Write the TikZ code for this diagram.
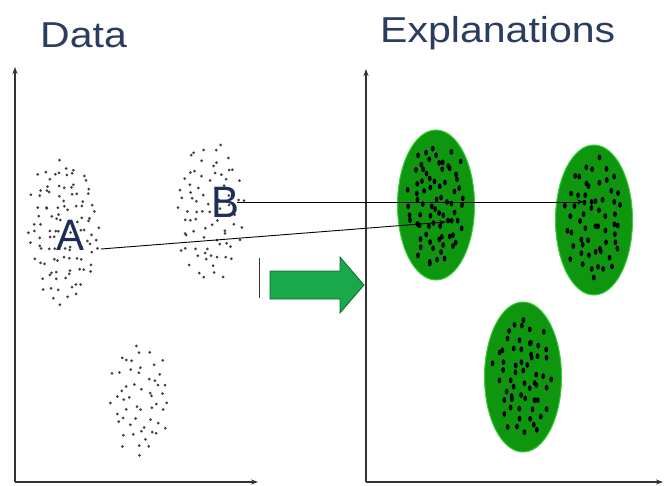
\documentclass[tikz,border=0pt]{standalone}
\usepackage{fontspec}
\setmainfont{Liberation Sans}
\usetikzlibrary{arrows.meta,shapes.geometric}
\definecolor{titleblue}{HTML}{2B3D5E}
\definecolor{letterblue}{HTML}{1F2D5A}
\definecolor{clustergreen}{HTML}{0E960E}
\definecolor{clusteredge}{HTML}{3ACC3A}
\definecolor{arrowgreen}{HTML}{19A84A}
\definecolor{arrowedge}{HTML}{0B6B2B}
\definecolor{axisgray}{HTML}{333333}
% sunflower pattern with a small jitter
\newcommand{\dotcloud}[6]{%
  \foreach \i in {1,...,#5}{%
    \pgfmathsetmacro{\myr}{sqrt((\i-0.5)/#5)}%
    \pgfmathsetmacro{\myt}{\i*137.508}%
    \pgfmathsetmacro{\myjx}{4*rand}%
    \pgfmathsetmacro{\myjy}{4*rand}%
    \path ({#1+#3*\myr*cos(\myt)+\myjx},{#2+#4*\myr*sin(\myt)+\myjy}) node[#6] {};
  }}
\begin{document}
\begin{tikzpicture}[x=1pt,y=-1pt,
  title/.style={font=\fontsize{36}{38}\selectfont, text=titleblue, inner sep=0pt, anchor=base west, xscale=1.14},
  letter/.style={font=\fontsize{44}{46}\selectfont, text=letterblue, inner sep=0pt, anchor=base west, xscale=0.95},
  axis/.style={draw=axisgray, line width=1.3pt, -{Stealth[length=7pt,width=5pt]}},
  cluster/.style={ellipse, draw=clusteredge, line width=1pt, fill=clustergreen, inner sep=0pt, minimum width=77pt, minimum height=150pt},
  rawdot/.style={circle, fill=black!75, inner sep=0pt, minimum size=3pt},
  greendot/.style={ellipse, fill=black, inner sep=0pt, minimum width=3.8pt, minimum height=5.8pt},
  link/.style={draw=black, line width=0.9pt, -{Stealth[length=7pt,width=5pt]}}]
\useasboundingbox (0,0) rectangle (668,486);
\pgfmathsetseed{23}
% titles
\node[title] (tdata) at (40,48) {Data};
\node[title] (texpl) at (380,43) {Explanations};
% axes
\coordinate (lo) at (15,482);
\coordinate (ly) at (15,67);
\coordinate (lx) at (258,482);
\draw[axis] (lo) -- (ly);
\draw[axis] (lo) -- (lx);
\coordinate (ro) at (366,482);
\coordinate (ry) at (366,69);
\coordinate (rx) at (663,482);
\draw[axis] (ro) -- (ry);
\draw[axis] (ro) -- (rx);
% raw data clouds
\dotcloud{64}{230}{35}{72}{110}{rawdot}
\dotcloud{210}{212}{34}{70}{80}{rawdot}
\dotcloud{140}{400}{30}{58}{55}{rawdot}
% green clusters
\node[cluster] (e1) at (436,205) {};
\node[cluster] (e2) at (594,220) {};
\node[cluster] (e3) at (523,377) {};
\dotcloud{436}{205}{29}{62}{75}{greendot}
\dotcloud{594}{220}{29}{62}{60}{greendot}
\dotcloud{523}{377}{29}{62}{60}{greendot}
% letters
\node[letter] (A) at (56,250) {A};
\node[letter] (B) at (211,217) {B};
% links
\coordinate (aS) at (101,249);
\coordinate (aE) at (446,222);
\coordinate (bS) at (237,202);
\coordinate (bE) at (584,202);
\draw[link] (aS) -- (aE);
\draw[link] (bS) -- (bE);
% big green arrow and mark
\draw[fill=arrowgreen, draw=arrowedge, line width=0.8pt]
  (270,271) -- (340,271) -- (340,257) -- (364,285) -- (340,313) -- (340,299) -- (270,299) -- cycle;
\coordinate (mT) at (259,258);
\coordinate (mB) at (259,298);
\draw[axisgray, line width=1pt] (mT) -- (mB);
\end{tikzpicture}
\end{document}
